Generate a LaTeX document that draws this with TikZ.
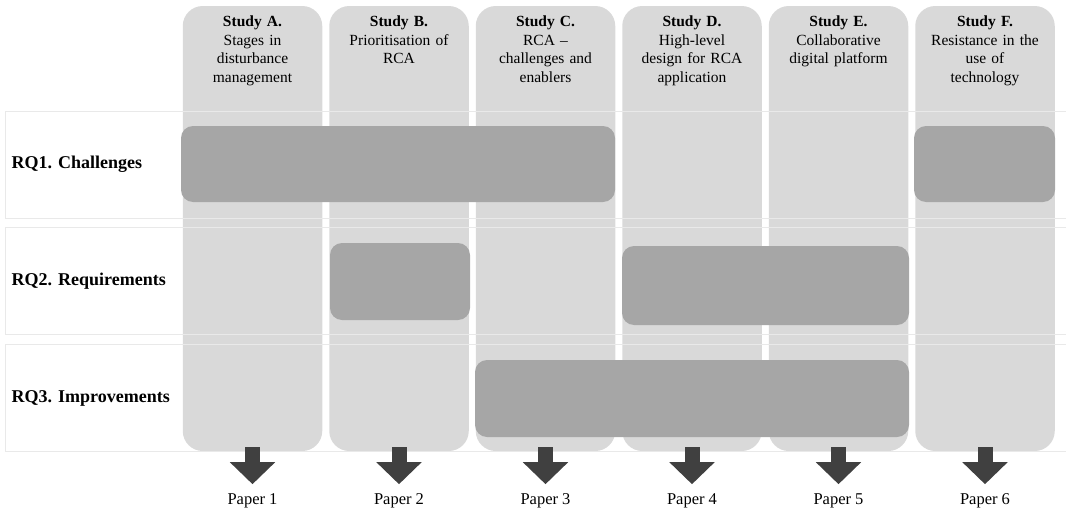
\documentclass[tikz,border=0pt]{standalone}
\usepackage{fontspec}
\setmainfont{Liberation Serif}
\usetikzlibrary{arrows.meta,positioning}
\definecolor{colgray}{HTML}{D9D9D9}
\definecolor{hitgray}{HTML}{A6A6A6}
\definecolor{arrgray}{HTML}{404040}
\definecolor{linegray}{HTML}{E9E9E9}

\begin{document}
\begin{tikzpicture}[x=1pt,y=-1pt,node distance=6.6pt,
  col/.style={fill=colgray,rounded corners=20pt,minimum width=139.5pt,minimum height=445pt,inner sep=0pt},
  band/.style={draw=linegray,line width=1pt,minimum width=1063pt,minimum height=107pt,inner sep=0pt},
  hit/.style={fill=hitgray,rounded corners=12pt,minimum height=77pt,inner sep=0pt},
  head/.style={text width=138pt,align=center,inner sep=0pt,font=\fontsize{15.5}{18.6}\selectfont},
  rq/.style={inner sep=0pt,font=\fontsize{18}{21}\selectfont\bfseries},
  paper/.style={inner sep=0pt,font=\fontsize{16.5}{19}\selectfont},
  flow/.style={draw=arrgray,line width=15pt,-{Triangle[width=44pt,length=22pt]}}]
\useasboundingbox (0,0) rectangle (1066,514);
% study columns
\node[col] (colA) at (252.5,228.5) {};
\node[col,right=of colA] (colB) {};
\node[col,right=of colB] (colC) {};
\node[col,right=of colC] (colD) {};
\node[col,right=of colD] (colE) {};
\node[col,right=of colE] (colF) {};
% research question rows
\node[band] (rq1) at (536.5,164.5) {};
\node[band] (rq2) at (536.5,281) {};
\node[band] (rq3) at (536.5,398) {};
% coverage blocks
\node[hit,minimum width=434pt,minimum height=76pt] (c1a) at (398,164) {};
\node[hit,minimum width=141pt,minimum height=76pt] (c1b) at (984.5,164) {};
\node[hit,minimum width=140pt] (c2a) at (400,281.5) {};
\node[hit,minimum width=287pt,minimum height=79pt] (c2b) at (765.5,285.5) {};
\node[hit,minimum width=434pt] (c3) at (692,398.5) {};
% headers
\node[head,below=10pt of colA.north] (hdA) {\textbf{Study A.}\\Stages in\\disturbance\\management};
\node[head,below=10pt of colB.north] (hdB) {\textbf{Study B.}\\Prioritisation of\\RCA};
\node[head,below=10pt of colC.north] (hdC) {\textbf{Study C.}\\RCA --\\challenges and\\enablers};
\node[head,below=10pt of colD.north] (hdD) {\textbf{Study D.}\\High-level\\design for RCA\\application};
\node[head,below=10pt of colE.north] (hdE) {\textbf{Study E.}\\Collaborative\\digital platform};
\node[head,below=10pt of colF.north] (hdF) {\textbf{Study F.}\\Resistance in the\\use of\\technology};
% row labels
\node[rq,right=7pt of rq1.west] (l1) {RQ1. Challenges};
\node[rq,right=7pt of rq2.west] (l2) {RQ2. Requirements};
\node[rq,right=7pt of rq3.west] (l3) {RQ3. Improvements};
% papers
\node[paper,below=42pt of colA.south] (p1) {Paper 1};
\node[paper,below=42pt of colB.south] (p2) {Paper 2};
\node[paper,below=42pt of colC.south] (p3) {Paper 3};
\node[paper,below=42pt of colD.south] (p4) {Paper 4};
\node[paper,below=42pt of colE.south] (p5) {Paper 5};
\node[paper,below=42pt of colF.south] (p6) {Paper 6};
\draw[flow] ([yshift=4pt]colA.south) -- ([yshift=9pt]p1.north);
\draw[flow] ([yshift=4pt]colB.south) -- ([yshift=9pt]p2.north);
\draw[flow] ([yshift=4pt]colC.south) -- ([yshift=9pt]p3.north);
\draw[flow] ([yshift=4pt]colD.south) -- ([yshift=9pt]p4.north);
\draw[flow] ([yshift=4pt]colE.south) -- ([yshift=9pt]p5.north);
\draw[flow] ([yshift=4pt]colF.south) -- ([yshift=9pt]p6.north);
\end{tikzpicture}
\end{document}
